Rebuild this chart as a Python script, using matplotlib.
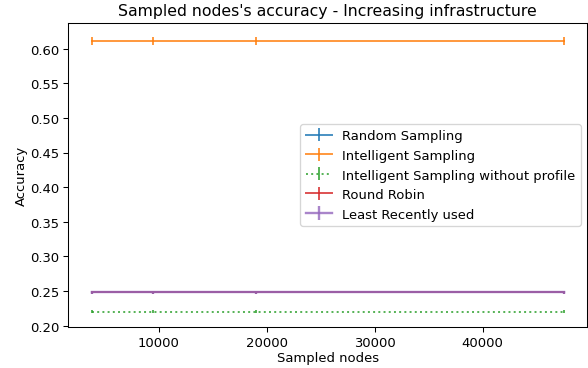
import numpy as np
import matplotlib
matplotlib.use("Agg")
import matplotlib.pyplot as plt

# sampled nodes per run (x axis)
sampled_nodes = [3800, 9500, 19000, 47500]

# accuracy per strategy
random_sampling = [0.248, 0.248, 0.248, 0.248]
intelligent_sampling = [0.611, 0.611, 0.611, 0.611]
intelligent_no_profile = [0.220, 0.220, 0.220, 0.220]
round_robin = [0.248, 0.248, 0.248, 0.248]
least_recently_used = [0.248, 0.248, 0.248, 0.248]

# standard deviations
random_err = [0.002, 0.002, 0.002, 0.002]
intelligent_err = [0.006, 0.006, 0.006, 0.006]
no_profile_err = [0.002, 0.002, 0.002, 0.002]
round_robin_err = [0.002, 0.002, 0.002, 0.002]
lru_err = [0.002, 0.002, 0.002, 0.002]

fig, ax = plt.subplots(figsize=(6.246, 3.913), dpi=94.3)

ax.errorbar(sampled_nodes, random_sampling, yerr=random_err, alpha=0.8, label='Random Sampling')
ax.errorbar(sampled_nodes, intelligent_sampling, yerr=intelligent_err, alpha=0.8, label='Intelligent Sampling')
ax.errorbar(sampled_nodes, intelligent_no_profile, yerr=no_profile_err, alpha=0.8, linestyle=':',
            label='Intelligent Sampling without profile')
ax.errorbar(sampled_nodes, round_robin, yerr=round_robin_err, alpha=0.8, label='Round Robin')
ax.errorbar(sampled_nodes, least_recently_used, yerr=lru_err, alpha=0.8, linewidth=1.8,
            label='Least Recently used')

ax.set_title("Sampled nodes's accuracy - Increasing infrastructure")
ax.set_xlabel('Sampled nodes', labelpad=1.5)
ax.set_ylabel('Accuracy', labelpad=1.5)
ax.legend(loc='center right')

fig.subplots_adjust(left=0.116, right=0.997, top=0.935, bottom=0.111)
fig.savefig('out.png')
